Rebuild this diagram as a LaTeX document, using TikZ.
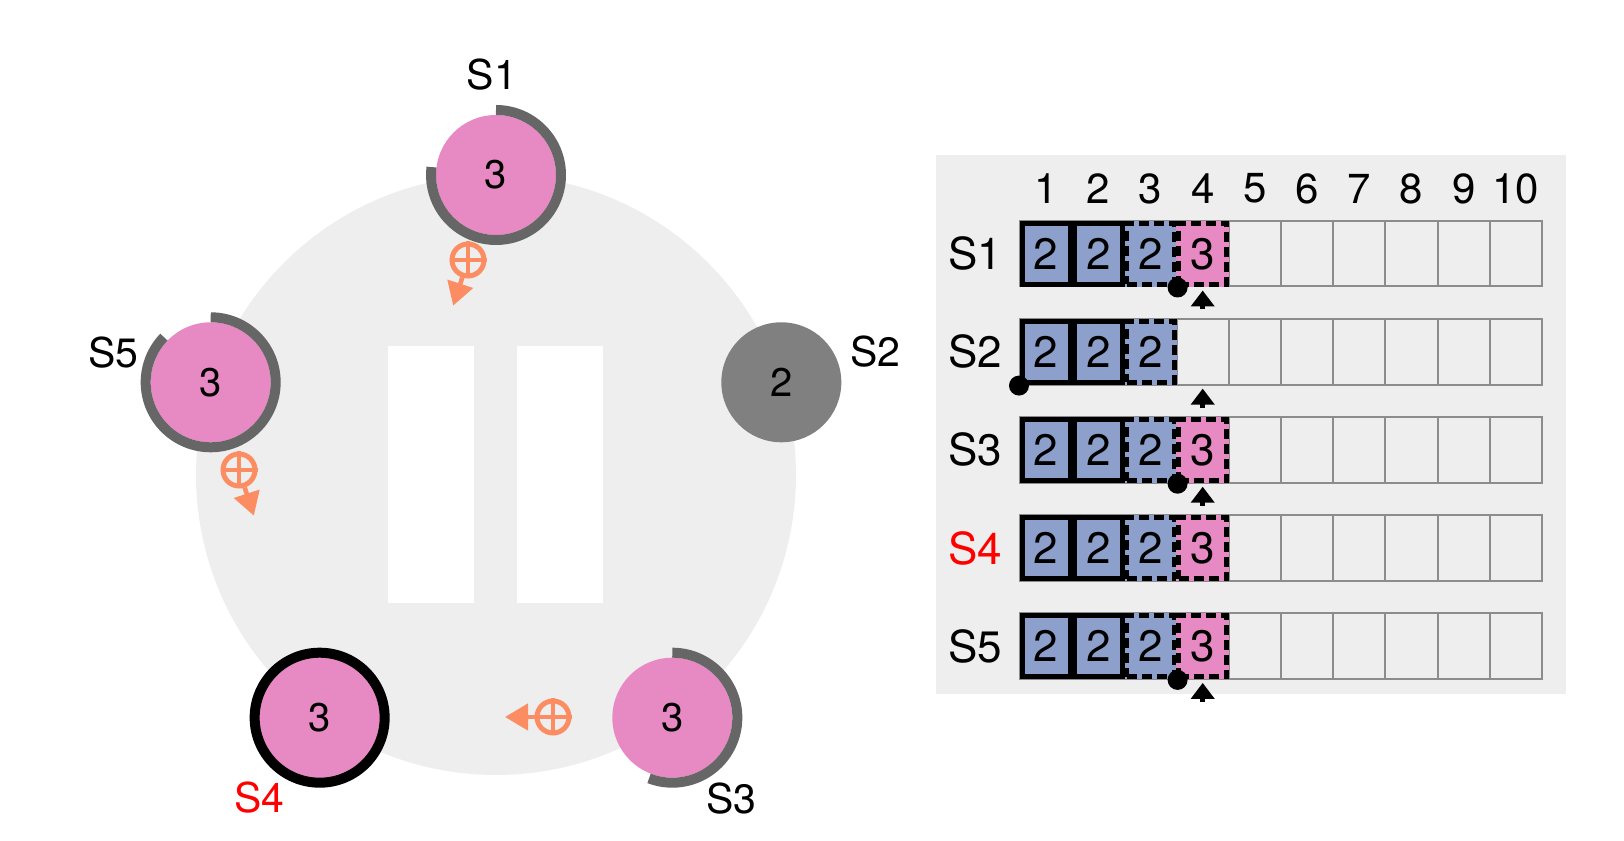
\documentclass[tikz,border=0pt]{standalone}
\usepackage{fontspec}
\setmainfont{TeX Gyre Heros}
\usetikzlibrary{positioning,arrows.meta,calc}
\definecolor{srvpink}{HTML}{E78AC3}
\definecolor{logblue}{HTML}{8DA0CB}
\definecolor{msgorange}{HTML}{FC8D62}
\definecolor{ringgray}{HTML}{666666}
\definecolor{downgray}{HTML}{808080}
\definecolor{panelgray}{HTML}{EEEEEE}
\definecolor{cellgray}{HTML}{8C8C8C}

\begin{document}
\begin{tikzpicture}[
  x=0.5pt, y=0.5pt, >=Latex,
  server/.style={circle, fill=srvpink, minimum size=60pt, inner sep=0pt, font=\fontsize{20}{24}\selectfont},
  ring/.style={draw=ringgray, line width=5pt},
  srvname/.style={font=\fontsize{20.5}{24}\selectfont},
  pausebar/.style={fill=white, minimum width=43pt, minimum height=128.5pt, inner sep=0pt},
  msg/.style={circle, draw=msgorange, line width=2.5pt, minimum size=16pt, inner sep=0pt},
  msgarrow/.style={msgorange, line width=2.3pt, -{Triangle[length=11.5pt,width=13pt]}},
  gridcell/.style={draw=cellgray, line width=1pt, minimum width=26.1pt, minimum height=32.75pt, inner sep=0pt},
  entry/.style={minimum width=24pt, minimum height=30.6pt, inner sep=0pt, line width=2.5pt, font=\fontsize{22}{26}\selectfont},
  committed/.style={entry, draw, fill=logblue},
  pending/.style={entry, draw, dash pattern=on 5pt off 2.5pt, fill=#1, preaction={draw=#1, solid}},
  pending/.default=logblue,
  fresh/.style={pending=srvpink},
  headdot/.style={circle, fill, minimum size=10pt, inner sep=0pt},
  nextptr/.style={line width=2.3pt, -{Triangle[length=8pt,width=11.5pt]}},
  tablefont/.style={font=\fontsize{22}{26}\selectfont},
]
  \useasboundingbox (0,0) rectangle (1624,841);

  \node[circle, fill=panelgray, minimum size=300pt, inner sep=0pt] (cluster) at (496,366) {};
  \node[pausebar] (bar-l) at ($(cluster)+(-65,0)$) {};
  \node[pausebar] (bar-r) at ($(cluster)+(64,0)$) {};

  \node[server] (s1) at ($(cluster)+(90:300)$) {3};
  \node[server, fill=downgray] (s2) at ($(cluster)+(18:300)$) {2};
  \node[server] (s3) at ($(cluster)+(-54:300)$) {3};
  \node[server, draw=black, line width=5pt, minimum size=65pt] (s4) at ($(cluster)+(-126:300)$) {3};
  \node[server] (s5) at ($(cluster)+(162:300)$) {3};
  \draw[ring] (s1.center) ++(90:65) arc[start angle=90, end angle=-187, radius=32.5pt];
  \draw[ring] (s5.center) ++(90:65) arc[start angle=90, end angle=-224, radius=32.5pt];
  \draw[ring] (s3.center) ++(90:65) arc[start angle=90, end angle=-111, radius=32.5pt];

  \node[srvname] (n1) at ($(s1)+(-4,100)$) {S1};
  \node[srvname] (n2) at ($(s2)+(94,30.5)$) {S2};
  \node[srvname] (n3) at ($(s3)+(59,-80.5)$) {S3};
  \node[srvname, text=red] (n4) at ($(s4)+(-60,-80)$) {S4};
  \node[srvname] (n5) at ($(s5)+(-97,30)$) {S5};

  \node[msg] (m1) at (468,581) {};
  \node[msg] (m5) at (239,371) {};
  \node[msg] (m3) at (553,124) {};
  \foreach \m in {m1,m5,m3}
    \draw[msgorange, line width=2pt] (\m.north) -- (\m.south) (\m.west) -- (\m.east);
  \coordinate (t1) at ($(m1)+(252:48)$);
  \coordinate (t5) at ($(m5)+(-72:48)$);
  \coordinate (t3) at ($(m3)+(180:48)$);
  \draw[msgarrow] (m1) -- (t1);
  \draw[msgarrow] (m5) -- (t5);
  \draw[msgarrow] (m3) -- (t3);

  \node[fill=panelgray, minimum width=315pt, minimum height=269.5pt, inner sep=0pt] (panel) at (1251,416.5) {};
  \foreach \c in {1,...,10}
    \node[font=\fontsize{21}{25}\selectfont] (h-\c) at (1020+\c*52.2-26.1, 652.5) {\c};
  \foreach \r/\who/\col in {1/S1/black, 2/S2/black, 3/S3/black, 4/S4/red, 5/S5/black} {
    \node[tablefont, text=\col] (r-\r) at (975, 685.35-\r*98.1) {\who};
    \foreach \c in {1,...,10}
      \node[gridcell] (c-\r-\c) at (1020+\c*52.2-26.1, 685.35-\r*98.1) {};
  }
  \foreach \r in {1,...,5} {
    \node[pending] (e-\r-3) at (c-\r-3) {2};
    \node[committed] (e-\r-1) at (c-\r-1) {2};
    \node[committed] (e-\r-2) at (c-\r-2) {2};
  }
  \foreach \r in {1,3,4,5}
    \node[fresh] (e-\r-4) at (c-\r-4) {3};

  \foreach \r in {1,3,5}
    \node[headdot] (d-\r) at (c-\r-3.south east) {};
  \node[headdot] (d-2) at (c-2-1.south west) {};
  \foreach \r in {1,2,3,5} {
    \coordinate (q-\r) at ([yshift=-11pt]c-\r-4.south);
    \draw[nextptr] (q-\r) -- ([yshift=-1.5pt]c-\r-4.south);
  }
\end{tikzpicture}
\end{document}
